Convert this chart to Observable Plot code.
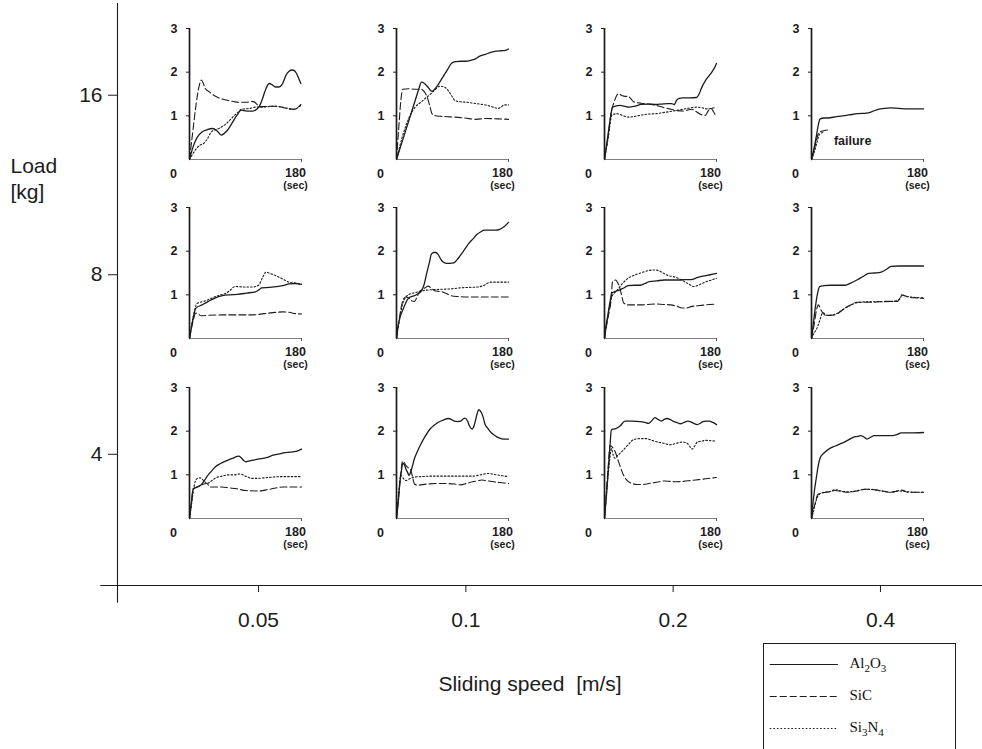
<!DOCTYPE html>
<html><head><meta charset="utf-8">
<script src="https://cdn.jsdelivr.net/npm/d3@7"></script>
<script src="https://cdn.jsdelivr.net/npm/@observablehq/plot@0.6"></script>
<style>
body{margin:0;background:#fff;}
#wrap{position:relative;width:982px;height:749px;overflow:hidden;background:#fff;font-family:"Liberation Sans",Arial,sans-serif;}
.lg{position:absolute;font-family:"Liberation Serif","Times New Roman",serif;font-size:15px;line-height:20px;color:#111;white-space:nowrap;}
.lg sub{font-size:11px;vertical-align:-4px;line-height:0;}
</style></head><body><div id="wrap"></div>
<script>
// ---- categories / tick labels ----
const speeds = [0.05, 0.1, 0.2, 0.4];          // sliding speed [m/s]
const loads = [16, 8, 4];                       // load [kg]
const materials = ["Al2O3", "SiC", "Si3N4"];
const materialLabels = ["Al<sub>2</sub>O<sub>3</sub>", "SiC", "Si<sub>3</sub>N<sub>4</sub>"];
const panelYTicks = [1, 2, 3];
const panelTimeEnd = 180;

// ---- series: [time (s), friction value] ----
// Load 16 kg
const AL_16_005 = [[0,0],[6,0.3],[12,0.5],[20,0.63],[28,0.68],[37,0.71],[44,0.66],[51,0.56],[56,0.6],[61,0.67],[67,0.8],[73,0.94],[78,1.05],[83,1.13],[92,1.11],[102,1.11],[108,1.15],[112,1.21],[117,1.38],[121,1.55],[128,1.74],[133,1.71],[138,1.66],[143,1.66],[148,1.7],[152,1.82],[155,1.93],[160,2.02],[165,2.05],[169,2.03],[172,1.97],[176,1.84],[179,1.74]];
const SIC_16_005 = [[0,0],[5,0.6],[10,1.2],[15,1.65],[19,1.82],[22,1.75],[25,1.63],[32,1.55],[39,1.47],[46,1.42],[54,1.38],[63,1.35],[73,1.32],[82,1.31],[92,1.31],[100,1.33],[104,1.32],[108,1.27],[112,1.21],[120,1.21],[130,1.22],[140,1.22],[150,1.19],[160,1.16],[169,1.15],[174,1.19],[179,1.26]];
const SN_16_005 = [[0,0],[5,0.12],[11,0.25],[17,0.33],[23,0.37],[29,0.48],[35,0.63],[41,0.68],[47,0.71],[53,0.76],[59,0.82],[66,0.92],[73,1.02],[78,1.08],[83,1.15],[90,1.16],[97,1.17],[107,1.2],[115,1.2],[125,1.21],[135,1.22],[145,1.21],[155,1.18],[165,1.15],[172,1.17],[179,1.24]];
const AL_16_01 = [[0,0],[10,0.45],[20,0.9],[30,1.35],[36,1.62],[40,1.77],[45,1.74],[51,1.65],[57,1.56],[62,1.62],[68,1.74],[75,1.9],[82,2.06],[89,2.21],[95,2.24],[104,2.25],[112,2.25],[119,2.27],[126,2.3],[133,2.36],[143,2.41],[153,2.46],[160,2.48],[168,2.49],[175,2.5],[180,2.53]];
const SIC_16_01 = [[0,0],[4,0.8],[7,1.35],[10,1.61],[20,1.62],[30,1.61],[38,1.61],[43,1.58],[47,1.5],[50,1.4],[54,1.2],[57,1.05],[63,1.0],[70,0.99],[82,0.98],[94,0.97],[110,0.95],[128,0.92],[143,0.94],[163,0.93],[180,0.92]];
const SN_16_01 = [[0,0],[10,0.55],[20,0.95],[30,1.2],[40,1.32],[48,1.42],[55,1.5],[62,1.6],[70,1.68],[77,1.66],[84,1.56],[89,1.45],[94,1.35],[104,1.32],[114,1.31],[124,1.29],[133,1.27],[143,1.25],[153,1.21],[163,1.17],[168,1.2],[173,1.25],[180,1.25]];
const AL_16_02 = [[0,0],[5,0.5],[10,1.0],[13,1.2],[25,1.24],[32,1.22],[39,1.2],[49,1.22],[59,1.26],[70,1.27],[83,1.26],[92,1.27],[102,1.28],[108,1.28],[112,1.26],[116,1.36],[120,1.4],[126,1.41],[137,1.41],[148,1.42],[152,1.5],[156,1.64],[162,1.8],[167,1.9],[172,1.99],[176,2.08],[180,2.2]];
const SIC_16_02 = [[0,0],[6,0.55],[11,1.1],[15,1.3],[19,1.45],[23,1.51],[27,1.47],[32,1.45],[39,1.44],[43,1.38],[47,1.32],[59,1.29],[71,1.27],[83,1.24],[95,1.19],[107,1.15],[117,1.12],[126,1.11],[133,1.13],[140,1.15],[147,1.1],[155,1.03],[162,1.01],[167,1.12],[171,1.17],[175,1.1],[179,0.99]];
const SN_16_02 = [[0,0],[6,0.5],[12,1.02],[20,1.05],[30,1.0],[39,0.97],[50,0.99],[60,1.02],[70,1.04],[83,1.05],[97,1.08],[110,1.11],[126,1.15],[137,1.18],[148,1.2],[158,1.18],[165,1.16],[172,1.17],[179,1.2]];
const AL_16_04 = [[0,0],[4,0.25],[8,0.55],[11,0.8],[14,0.93],[20,0.95],[26,0.95],[40,0.98],[60,1.02],[75,1.05],[88,1.06],[98,1.1],[107,1.15],[117,1.17],[127,1.18],[140,1.17],[155,1.16],[168,1.16],[180,1.16]];
const SIC_16_04 = [[0,0],[4,0.2],[8,0.45],[12,0.62],[20,0.66],[29,0.68]];
const SN_16_04 = [[0,0],[4,0.15],[8,0.35],[13,0.58],[18,0.62]];
// Load 8 kg
const AL_8_005 = [[0,0],[5,0.4],[10,0.69],[20,0.77],[29,0.84],[40,0.92],[53,0.98],[65,1.0],[77,1.01],[92,1.04],[106,1.07],[112,1.12],[116,1.16],[128,1.17],[140,1.19],[150,1.21],[160,1.25],[170,1.26],[180,1.24]];
const SIC_8_005 = [[0,0],[5,0.35],[10,0.58],[14,0.56],[19,0.52],[30,0.53],[53,0.54],[80,0.54],[102,0.54],[120,0.57],[140,0.6],[150,0.61],[160,0.6],[170,0.57],[180,0.56]];
const SN_8_005 = [[0,0],[6,0.5],[12,0.8],[20,0.84],[29,0.88],[40,0.95],[50,1.0],[58,1.03],[65,1.1],[73,1.19],[88,1.18],[102,1.18],[111,1.22],[117,1.38],[123,1.52],[131,1.48],[140,1.43],[150,1.36],[160,1.29],[170,1.27],[180,1.24]];
const AL_8_01 = [[0,0],[2,0.24],[6,0.5],[10,0.65],[15,0.82],[19,0.92],[24,0.96],[29,0.98],[34,1.02],[39,1.07],[44,1.22],[49,1.52],[53,1.75],[56,1.93],[60,1.97],[63,1.97],[67,1.92],[71,1.82],[75,1.75],[80,1.72],[86,1.72],[92,1.73],[97,1.8],[102,1.89],[110,2.05],[117,2.19],[123,2.28],[129,2.38],[135,2.44],[141,2.48],[150,2.48],[160,2.48],[166,2.5],[171,2.54],[176,2.6],[180,2.66]];
const SIC_8_01 = [[0,0],[4,0.4],[8,0.75],[12,0.92],[15,0.95],[20,0.92],[25,0.86],[29,0.85],[32,0.92],[36,1.05],[41,1.12],[46,1.16],[51,1.2],[56,1.15],[61,1.1],[67,1.08],[73,1.07],[80,1.03],[88,0.98],[100,0.96],[112,0.95],[126,0.95],[141,0.95],[160,0.95],[180,0.95]];
const SN_8_01 = [[0,0],[5,0.45],[10,0.8],[15,0.95],[19,1.0],[30,1.05],[44,1.1],[60,1.12],[78,1.13],[90,1.14],[102,1.16],[115,1.17],[131,1.18],[141,1.22],[151,1.29],[165,1.29],[180,1.29]];
const AL_8_02 = [[0,0],[2,0.25],[5,0.5],[9,0.85],[12,1.04],[18,1.08],[24,1.11],[30,1.15],[38,1.21],[48,1.22],[58,1.22],[65,1.26],[72,1.3],[84,1.32],[96,1.34],[108,1.34],[120,1.34],[130,1.35],[139,1.35],[150,1.4],[158,1.43],[170,1.46],[180,1.49]];
const SIC_8_02 = [[0,0],[4,0.35],[8,0.65],[10,0.81],[13,1.3],[18,1.34],[21,1.28],[24,1.19],[27,1.02],[31,0.81],[38,0.77],[48,0.77],[58,0.77],[70,0.78],[82,0.79],[94,0.78],[106,0.77],[116,0.74],[125,0.7],[132,0.7],[139,0.73],[150,0.75],[163,0.77],[180,0.79]];
const SN_8_02 = [[0,0],[6,0.55],[12,0.96],[20,1.1],[29,1.26],[38,1.38],[48,1.45],[60,1.51],[72,1.56],[80,1.57],[86,1.56],[94,1.5],[101,1.45],[115,1.4],[125,1.33],[134,1.26],[144,1.19],[154,1.24],[163,1.3],[172,1.34],[180,1.38]];
const AL_8_04 = [[0,0],[3,0.35],[7,0.8],[10,1.05],[13,1.19],[20,1.21],[30,1.22],[42,1.22],[54,1.22],[63,1.27],[73,1.34],[83,1.42],[92,1.49],[102,1.5],[112,1.52],[120,1.58],[128,1.65],[140,1.66],[155,1.66],[168,1.66],[180,1.66]];
const SIC_8_04 = [[0,0],[4,0.3],[8,0.65],[11,0.77],[15,0.66],[19,0.57],[23,0.53],[30,0.53],[39,0.55],[47,0.62],[54,0.7],[63,0.77],[73,0.83],[85,0.83],[97,0.83],[107,0.84],[116,0.85],[127,0.85],[138,0.85],[142,0.92],[145,1.0],[150,0.98],[155,0.95],[168,0.93],[180,0.92]];
const SN_8_04 = [[0,0],[4,0.12],[8,0.21],[13,0.4],[18,0.59],[25,0.53],[33,0.54],[42,0.58],[50,0.66],[60,0.74],[73,0.82],[90,0.84],[110,0.84],[130,0.85],[140,0.88],[146,0.99],[155,0.96],[180,0.93]];
// Load 4 kg
const AL_4_005 = [[0,0],[3,0.35],[6,0.68],[12,0.72],[18,0.76],[23,0.85],[28,0.96],[35,1.08],[42,1.19],[50,1.26],[57,1.31],[64,1.35],[71,1.39],[79,1.43],[83,1.39],[87,1.33],[91,1.3],[100,1.33],[115,1.37],[125,1.4],[134,1.45],[145,1.48],[153,1.51],[162,1.52],[168,1.53],[174,1.55],[180,1.59]];
const SIC_4_005 = [[0,0],[3,0.35],[6,0.68],[12,0.72],[18,0.76],[23,0.79],[28,0.8],[33,0.72],[42,0.72],[52,0.72],[64,0.7],[76,0.68],[91,0.64],[110,0.63],[129,0.67],[149,0.72],[165,0.72],[180,0.72]];
const SN_4_005 = [[0,0],[4,0.4],[7,0.7],[9,0.84],[13,0.92],[17,0.93],[22,0.88],[28,0.8],[35,0.86],[42,0.93],[52,0.97],[62,1.0],[72,1.0],[81,1.02],[90,0.97],[100,0.92],[110,0.92],[120,0.93],[135,0.95],[149,0.96],[165,0.96],[180,0.96]];
const AL_4_01 = [[0,0],[3,0.4],[5,0.75],[8,1.1],[10,1.26],[13,1.22],[15,1.14],[18,1.05],[20,0.99],[24,1.12],[29,1.38],[34,1.55],[39,1.7],[46,1.88],[54,2.05],[61,2.14],[68,2.21],[76,2.26],[83,2.29],[88,2.27],[93,2.23],[98,2.22],[103,2.23],[107,2.28],[110,2.3],[114,2.24],[117,2.13],[120,2.06],[122,2.05],[125,2.14],[127,2.25],[130,2.42],[132,2.49],[135,2.46],[137,2.41],[140,2.28],[142,2.17],[147,2.06],[152,1.97],[157,1.91],[161,1.87],[166,1.84],[171,1.82],[180,1.82]];
const SIC_4_01 = [[0,0],[4,0.6],[7,1.05],[10,1.32],[13,1.27],[15,1.22],[19,1.16],[22,1.14],[25,1.0],[29,0.79],[34,0.76],[39,0.77],[50,0.79],[64,0.8],[80,0.8],[93,0.79],[103,0.77],[112,0.8],[122,0.84],[130,0.86],[137,0.88],[148,0.86],[161,0.83],[170,0.82],[180,0.8]];
const SN_4_01 = [[0,0],[3,0.5],[7,0.99],[11,0.92],[15,0.87],[20,0.9],[29,0.95],[40,0.96],[54,0.97],[70,0.97],[93,0.97],[110,0.97],[122,0.97],[135,1.0],[147,1.03],[161,1.0],[170,0.98],[180,0.96]];
const AL_4_02 = [[0,0],[3,0.5],[6,1.1],[9,1.7],[11,2.03],[18,2.06],[25,2.12],[33,2.23],[45,2.23],[57,2.22],[65,2.2],[71,2.18],[76,2.24],[81,2.31],[86,2.27],[91,2.23],[96,2.27],[100,2.29],[105,2.27],[110,2.23],[116,2.2],[122,2.17],[128,2.2],[134,2.23],[142,2.19],[149,2.15],[154,2.18],[158,2.22],[163,2.23],[168,2.23],[174,2.2],[180,2.15]];
const SIC_4_02 = [[0,0],[3,0.6],[6,1.2],[9,1.67],[14,1.61],[18,1.5],[21,1.37],[25,1.2],[28,1.08],[33,0.93],[38,0.85],[45,0.8],[52,0.78],[62,0.78],[71,0.8],[84,0.83],[96,0.86],[106,0.85],[115,0.84],[127,0.85],[139,0.87],[151,0.89],[163,0.91],[180,0.94]];
const SN_4_02 = [[0,0],[4,0.7],[8,1.3],[11,1.6],[14,1.45],[17,1.38],[21,1.44],[27,1.52],[33,1.61],[40,1.72],[47,1.81],[57,1.83],[67,1.83],[76,1.79],[86,1.75],[96,1.72],[105,1.69],[115,1.72],[125,1.75],[130,1.74],[134,1.71],[138,1.63],[141,1.59],[145,1.66],[149,1.75],[156,1.77],[163,1.79],[172,1.78],[180,1.77]];
const AL_4_04 = [[0,0],[2,0.3],[5,0.67],[8,0.95],[10,1.14],[14,1.39],[20,1.5],[29,1.6],[38,1.66],[48,1.72],[58,1.79],[67,1.86],[74,1.88],[79,1.9],[84,1.87],[89,1.82],[95,1.86],[101,1.9],[115,1.9],[130,1.9],[137,1.92],[144,1.96],[160,1.96],[180,1.97]];
const SIC_4_04 = [[0,0],[3,0.2],[6,0.35],[10,0.55],[19,0.59],[28,0.61],[38,0.64],[48,0.62],[58,0.6],[72,0.63],[86,0.67],[96,0.67],[106,0.65],[115,0.63],[125,0.6],[135,0.62],[144,0.65],[150,0.63],[154,0.6],[166,0.6],[180,0.6]];
const SN_4_04 = [[0,0],[3,0.15],[7,0.39],[12,0.55],[20,0.6],[30,0.62],[38,0.66],[50,0.62],[60,0.61],[75,0.64],[86,0.67],[100,0.66],[115,0.62],[128,0.6],[140,0.63],[150,0.62],[165,0.6],[180,0.6]];

// annotation
const notes = [{load: 16, speed: 0.4, t: 36, v: 0.43, text: "failure"}];

// ---- panel table built from the named arrays ----
const panels = [
  [16, 0.05, AL_16_005, SIC_16_005, SN_16_005], [16, 0.1, AL_16_01, SIC_16_01, SN_16_01],
  [16, 0.2, AL_16_02, SIC_16_02, SN_16_02], [16, 0.4, AL_16_04, SIC_16_04, SN_16_04],
  [8, 0.05, AL_8_005, SIC_8_005, SN_8_005], [8, 0.1, AL_8_01, SIC_8_01, SN_8_01],
  [8, 0.2, AL_8_02, SIC_8_02, SN_8_02], [8, 0.4, AL_8_04, SIC_8_04, SN_8_04],
  [4, 0.05, AL_4_005, SIC_4_005, SN_4_005], [4, 0.1, AL_4_01, SIC_4_01, SN_4_01],
  [4, 0.2, AL_4_02, SIC_4_02, SN_4_02], [4, 0.4, AL_4_04, SIC_4_04, SN_4_04]
].map(([load, speed, a, b, c]) => ({load, speed, series: {Al2O3: a, SiC: b, Si3N4: c}}));

// ---- styles ----
const dash = {Al2O3: null, SiC: "7,3", Si3N4: "1.6,2"};
const width = {Al2O3: 1.3, SiC: 1.1, Si3N4: 1.1};
const ink = "#1c1c1c";
const sans = "'Liberation Sans', Arial, Helvetica, sans-serif";

const wrap = document.getElementById("wrap");

// ---- outer frame: load vs sliding speed (both doubling -> log scales) ----
const X0 = 0.0312, X1 = 0.5626, Y0 = 2.41, Y1 = 22.8;
const outer = Plot.plot({
  width: 982, height: 749,
  marginLeft: 117, marginRight: 0, marginTop: 3, marginBottom: 164,
  x: {type: "log", domain: [X0, X1]},
  y: {type: "log", domain: [Y0, Y1]},
  style: {fontFamily: sans, color: ink, background: "transparent"},
  marks: [
    Plot.ruleY([Y0], {x1: 0.0295, x2: X1, stroke: ink, strokeWidth: 1.1}),
    Plot.ruleX([X0], {y1: 2.25, y2: Y1, stroke: ink, strokeWidth: 1.1}),
    Plot.axisX({ticks: speeds, tickFormat: d => String(d), tickSize: 7, tickPadding: 20, fontSize: 21, label: null, stroke: ink}),
    Plot.axisY({ticks: loads, tickFormat: d => String(d), tickSize: 9, tickPadding: 6, fontSize: 21, label: null, stroke: ink}),
    Plot.text(["Load\n[kg]"], {frameAnchor: "top-left", dx: -107, dy: 152, textAnchor: "start", lineAnchor: "top", lineHeight: 1.2, fontSize: 21}),
    Plot.text(["Sliding speed  [m/s]"], {frameAnchor: "bottom", dx: -20, dy: 105, fontSize: 21})
  ]
});
outer.style.position = "absolute"; outer.style.left = "0px"; outer.style.top = "0px";
wrap.appendChild(outer);
const sx = outer.scale("x"), sy = outer.scale("y");

// ---- the twelve small friction-vs-time panels ----
const PW = 112, PH = 131, ml = 26, mr = 24, mt = 8, mb = 38;
for (const p of panels) {
  const marks = [
    Plot.ruleY([0], {stroke: "#808080", strokeWidth: 1}),
    Plot.axisX({ticks: [panelTimeEnd], tickSize: 3, tickFormat: () => "", label: null, stroke: "#555"}),
    Plot.ruleX([0], {stroke: ink, strokeWidth: 1.7}),
    Plot.axisY({ticks: panelYTicks, tickFormat: d => String(d), tickSize: 3, tickPadding: 9, fontSize: 12.5, fontWeight: "bold", label: null, stroke: ink}),
    Plot.text([{t: 0, v: 0, s: "0"}], {x: "t", y: "v", text: "s", dx: -16, dy: 14, fontSize: 12.5, fontWeight: "bold"}),
    Plot.text([{t: panelTimeEnd, v: 0, s: String(panelTimeEnd)}], {x: "t", y: "v", text: "s", dx: -6, dy: 13, fontSize: 12.5, fontWeight: "bold"}),
    Plot.text([{t: panelTimeEnd, v: 0, s: "(sec)"}], {x: "t", y: "v", text: "s", dx: -6, dy: 26, fontSize: 10.5, fontWeight: "bold"})
  ];
  for (const m of materials) {
    marks.push(Plot.line(p.series[m], {x: d => d[0], y: d => d[1], curve: "monotone-x",
      stroke: ink, strokeWidth: width[m], strokeDasharray: dash[m] ?? undefined}));
  }
  const pn = notes.filter(n => n.load === p.load && n.speed === p.speed);
  if (pn.length) marks.push(Plot.text(pn, {x: "t", y: "v", text: "text", textAnchor: "start", fontSize: 12.5, fontWeight: "bold"}));
  const svg = Plot.plot({
    width: PW + ml + mr, height: PH + mt + mb,
    marginLeft: ml, marginRight: mr, marginTop: mt, marginBottom: mb,
    x: {domain: [0, panelTimeEnd]}, y: {domain: [0, 3]},
    style: {fontFamily: sans, color: ink, background: "transparent", overflow: "visible"},
    marks
  });
  svg.style.position = "absolute";
  svg.style.left = (sx.apply(p.speed) - 69 - ml) + "px";
  svg.style.top = (sy.apply(p.load) - 67 - mt) + "px";
  wrap.appendChild(svg);
}

// ---- legend box ----
const legend = Plot.plot({
  width: 194, height: 122, margin: 1,
  x: {domain: [0, 1], axis: null},
  y: {type: "point", domain: materials, range: [22, 86], padding: 0, axis: null},
  style: {background: "#fff"},
  marks: [
    Plot.frame({stroke: ink, strokeWidth: 1}),
    ...materials.map(m => Plot.ruleY([m], {x1: 0.035, x2: 0.39, stroke: ink, strokeWidth: 1, strokeDasharray: dash[m] ?? undefined}))
  ]
});
legend.style.position = "absolute"; legend.style.left = "762px"; legend.style.top = "642px";
wrap.appendChild(legend);
const lx = legend.scale("x"), ly = legend.scale("y");
materials.forEach((m, i) => {
  const d = document.createElement("div");
  d.className = "lg";
  d.innerHTML = materialLabels[i];
  d.style.left = (762 + lx.apply(0.45)) + "px";
  d.style.top = (642 + ly.apply(m) - 11) + "px";
  wrap.appendChild(d);
});
</script></body></html>
